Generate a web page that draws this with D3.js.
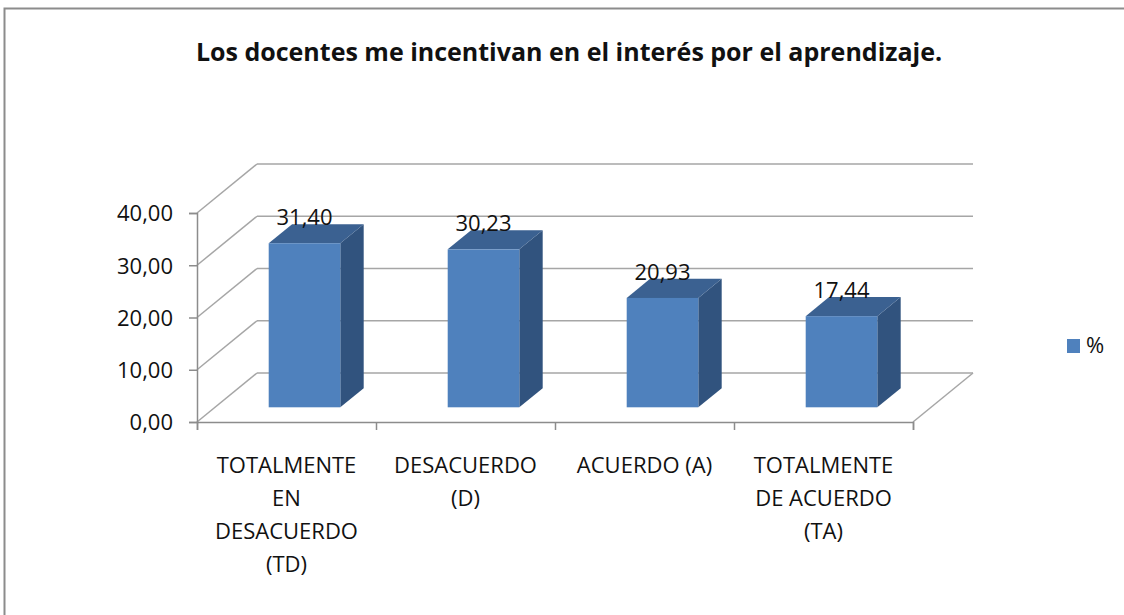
<!DOCTYPE html>
<html>
<head>
<meta charset="utf-8">
<script src="https://cdn.jsdelivr.net/npm/d3@7"></script>
<style>
  body { margin: 0; background: #fff; }
  svg text { font-family: "Open Sans", sans-serif; fill: #111; }
</style>
</head>
<body>
<div id="chart"></div>
<script>
// data
var categories = [
  ["TOTALMENTE", "EN", "DESACUERDO", "(TD)"],
  ["DESACUERDO", "(D)"],
  ["ACUERDO (A)"],
  ["TOTALMENTE", "DE ACUERDO", "(TA)"]
];
var values = [31.40, 30.23, 20.93, 17.44];
var yTicks = [0, 10, 20, 30, 40];
var seriesName = "%";
var title = "Los docentes me incentivan en el interés por el aprendizaje.";

var W = 1124, H = 615;

// front plane of the 3d box
var left = 197, front = 716, base = 422, top40 = 213;
// depth offset of the back wall
var dx = 60, dy = -49;
// bar sits between these depth fractions
var d0 = 0.3, d1 = 0.69;

var fmt = function(v) { return v.toFixed(2).replace(".", ","); };

var svg = d3.select("#chart").append("svg")
  .attr("width", W)
  .attr("height", H);

// outer chart border (top and left visible)
svg.append("path")
  .attr("d", "M4.5," + H + "V8.5H" + W)
  .attr("fill", "none")
  .attr("stroke", "#8c8c8c")
  .attr("stroke-width", 2);

svg.append("text")
  .attr("x", 569)
  .attr("y", 61)
  .attr("text-anchor", "middle")
  .attr("font-size", "25px")
  .attr("font-weight", "bold")
  .attr("fill", "#000")
  .text(title);

var y = d3.scaleLinear().domain([0, 40]).range([base, top40]);
var x = d3.scaleBand()
  .domain(d3.range(categories.length))
  .range([0, front])
  .paddingInner(0.6)
  .paddingOuter(0.3);

// project (front x, value, depth) to screen
function px(fx, d) { return left + fx + d * dx; }
function py(v, d) { return y(v) + d * dy; }

var g = svg.append("g");

// back wall gridlines + left wall diagonals
yTicks.forEach(function(t) {
  g.append("line")
    .attr("x1", px(0, 1)).attr("y1", py(t, 1))
    .attr("x2", px(front, 1)).attr("y2", py(t, 1))
    .attr("stroke", "#a6a6a6").attr("stroke-width", 1.5);
  g.append("line")
    .attr("x1", px(0, 0)).attr("y1", py(t, 0))
    .attr("x2", px(0, 1)).attr("y2", py(t, 1))
    .attr("stroke", "#a6a6a6").attr("stroke-width", 1.5);
});

// right floor edge
g.append("line")
  .attr("x1", px(front, 0)).attr("y1", py(0, 0))
  .attr("x2", px(front, 1)).attr("y2", py(0, 1))
  .attr("stroke", "#a6a6a6").attr("stroke-width", 1.5);

// value axis
var yAxis = svg.append("g")
  .attr("transform", "translate(" + left + ",0)")
  .call(d3.axisLeft(y).tickValues(yTicks).tickSize(8).tickPadding(16).tickFormat(fmt));
yAxis.select(".domain").attr("stroke", "#8c8c8c").attr("stroke-width", 1.5);
yAxis.selectAll(".tick line").attr("stroke", "#8c8c8c").attr("stroke-width", 1.5);
yAxis.selectAll(".tick text")
  .attr("font-size", "22px")
  .attr("font-family", "Open Sans, sans-serif")
  .attr("fill", "#111")
  .attr("dy", "0.36em");

// category axis
var cx = d3.scaleLinear().domain([0, categories.length]).range([left, left + front]);
var xAxis = svg.append("g")
  .attr("transform", "translate(0," + base + ")")
  .call(d3.axisBottom(cx).ticks(categories.length).tickSize(8).tickFormat(""));
xAxis.select(".domain").attr("stroke", "#8c8c8c").attr("stroke-width", 1.5);
xAxis.selectAll(".tick line").attr("stroke", "#8c8c8c").attr("stroke-width", 1.5);

categories.forEach(function(lines, i) {
  var t = svg.append("text")
    .attr("text-anchor", "middle")
    .attr("font-size", "22px")
    .attr("y", 473);
  lines.forEach(function(s, k) {
    t.append("tspan")
      .attr("x", cx(i + 0.5))
      .attr("dy", k === 0 ? 0 : 33)
      .text(s);
  });
});

// bars
var bars = svg.selectAll(".bar")
  .data(values)
  .enter().append("g")
  .attr("class", "bar");

function poly(pts) {
  return "M" + pts.map(function(p) { return p[0] + "," + p[1]; }).join("L") + "Z";
}

bars.append("path")
  .attr("fill", "#31537e")
  .attr("d", function(v, i) {
    var r = x(i) + x.bandwidth();
    return poly([[px(r, d0), py(0, d0)], [px(r, d1), py(0, d1)],
                 [px(r, d1), py(v, d1)], [px(r, d0), py(v, d0)]]);
  });
bars.append("path")
  .attr("fill", "#3b6191")
  .attr("d", function(v, i) {
    var l = x(i), r = l + x.bandwidth();
    return poly([[px(l, d0), py(v, d0)], [px(r, d0), py(v, d0)],
                 [px(r, d1), py(v, d1)], [px(l, d1), py(v, d1)]]);
  });
bars.append("rect")
  .attr("fill", "#4f81bd")
  .attr("x", function(v, i) { return px(x(i), d0); })
  .attr("y", function(v) { return py(v, d0); })
  .attr("width", x.bandwidth())
  .attr("height", function(v) { return y(0) - y(v); });

bars.append("text")
  .attr("text-anchor", "middle")
  .attr("font-size", "22px")
  .attr("x", function(v, i) { return px(x(i) + x.bandwidth() / 2, d0); })
  .attr("y", function(v) { return py(v, d1) + 1; })
  .text(fmt);

// legend
svg.append("rect")
  .attr("x", 1067).attr("y", 339)
  .attr("width", 13).attr("height", 14)
  .attr("fill", "#4f81bd");
svg.append("text")
  .attr("x", 1086).attr("y", 353)
  .attr("font-size", "22px")
  .text(seriesName);
</script>
</body>
</html>
